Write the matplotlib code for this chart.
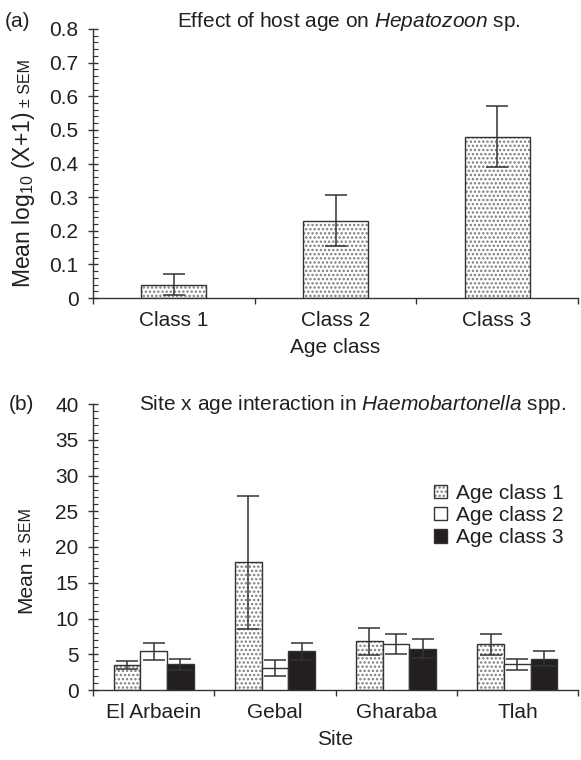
import numpy as np
import matplotlib
matplotlib.use('Agg')
import matplotlib.pyplot as plt
import matplotlib.patches as mpatches
from matplotlib.legend_handler import HandlerTuple
from matplotlib.ticker import MultipleLocator, FuncFormatter, FixedLocator, NullFormatter

plt.rcParams['font.family'] = ['Liberation Sans', 'DejaVu Sans']
plt.rcParams['mathtext.fontset'] = 'custom'
plt.rcParams['mathtext.rm'] = 'Liberation Sans'
plt.rcParams['mathtext.it'] = 'Liberation Sans:italic'
plt.rcParams['hatch.linewidth'] = 1.15

# panel (a): Hepatozoon vs host age
age_classes = ['Class 1', 'Class 2', 'Class 3']
hep_mean = [0.04, 0.23, 0.48]
hep_sem = [0.03, 0.075, 0.09]

# panel (b): Haemobartonella, site x age
sites = ['El Arbaein', 'Gebal', 'Gharaba', 'Tlah']
age_labels = ['Age class 1', 'Age class 2', 'Age class 3']
haemo_mean = {
    'Age class 1': [3.5, 17.9, 6.8, 6.4],
    'Age class 2': [5.4, 3.1, 6.5, 3.6],
    'Age class 3': [3.6, 5.4, 5.8, 4.4],
}
haemo_sem = {
    'Age class 1': [0.6, 9.3, 1.9, 1.5],
    'Age class 2': [1.2, 1.1, 1.4, 0.75],
    'Age class 3': [0.8, 1.15, 1.3, 1.0],
}

TXT = '#231f20'
EDGE = '#333333'
DOT = '#7c7c7c'
W, H = 581, 760
CAP = 8


def fx(px):
    return px / W


def fy(py):
    return 1 - py / H


def err(ax, x, h, e):
    ax.errorbar(x, h, yerr=e, fmt='none', ecolor=EDGE, elinewidth=1.1,
                capsize=CAP, capthick=1.1, zorder=4)


def dotted_bars(ax, x, h, width, yerr=None):
    # hatch layer in grey, then dark outline on top
    ax.bar(x, h, width, color='white', edgecolor=DOT, hatch='....', linewidth=0, zorder=2)
    ax.bar(x, h, width, fill=False, edgecolor=EDGE, linewidth=1.0, zorder=3)
    if yerr is not None:
        err(ax, x, h, yerr)


def style_axes(ax, n_cat):
    for s in ['top', 'right']:
        ax.spines[s].set_visible(False)
    for s in ['left', 'bottom']:
        ax.spines[s].set_color(EDGE)
        ax.spines[s].set_linewidth(1.0)
    ax.set_xlim(-0.5, n_cat - 0.5)
    ax.xaxis.set_major_locator(FixedLocator(np.arange(n_cat)))
    ax.xaxis.set_minor_locator(FixedLocator(np.arange(n_cat + 1) - 0.5))
    ax.xaxis.set_minor_formatter(NullFormatter())
    ax.tick_params(axis='x', which='major', length=0, pad=9, labelsize=15, labelcolor=TXT)
    ax.tick_params(axis='x', which='minor', direction='out', length=4, width=1.0, color=EDGE)
    ax.tick_params(axis='y', which='major', direction='inout', length=7, width=1.0,
                   color=EDGE, pad=7, labelsize=15, labelcolor=TXT)
    ax.tick_params(axis='y', which='minor', direction='in', length=3.5, width=0.8, color=EDGE)


fig = plt.figure(figsize=(5.81, 7.6), dpi=100)

# ---- panel (a)
ax1 = fig.add_axes([fx(93), fy(298), fx(578) - fx(93), fy(29) - fy(298)])
xa = np.arange(len(age_classes))
dotted_bars(ax1, xa, hep_mean, 0.4, hep_sem)
style_axes(ax1, len(age_classes))
ax1.set_ylim(0, 0.8)
ax1.yaxis.set_major_locator(MultipleLocator(0.1))
ax1.yaxis.set_minor_locator(MultipleLocator(0.02))
ax1.yaxis.set_major_formatter(FuncFormatter(lambda v, p: '0' if abs(v) < 1e-9 else f'{v:.1f}'))
ax1.set_xticklabels(age_classes)
ax1.set_xlabel('Age class', fontsize=15, color=TXT, labelpad=6)

# ---- panel (b)
ax2 = fig.add_axes([fx(93), fy(690), fx(578) - fx(93), fy(404) - fy(690)])
xb = np.arange(len(sites))
bw = 0.22
offsets = [-bw, 0, bw]
dotted_bars(ax2, xb + offsets[0], haemo_mean[age_labels[0]], bw, haemo_sem[age_labels[0]])
ax2.bar(xb + offsets[1], haemo_mean[age_labels[1]], bw, color='white', edgecolor=EDGE,
        linewidth=1.0, zorder=3)
err(ax2, xb + offsets[1], haemo_mean[age_labels[1]], haemo_sem[age_labels[1]])
ax2.bar(xb + offsets[2], haemo_mean[age_labels[2]], bw, color=TXT, edgecolor=EDGE,
        linewidth=1.0, zorder=3)
err(ax2, xb + offsets[2], haemo_mean[age_labels[2]], haemo_sem[age_labels[2]])
style_axes(ax2, len(sites))
ax2.set_ylim(0, 40)
ax2.yaxis.set_major_locator(MultipleLocator(5))
ax2.yaxis.set_minor_locator(MultipleLocator(1))
ax2.set_xticklabels(sites)
ax2.set_xlabel('Site', fontsize=15, color=TXT, labelpad=6)

h1 = (mpatches.Patch(facecolor='white', edgecolor=DOT, hatch='....', linewidth=0),
      mpatches.Patch(fill=False, edgecolor=EDGE, linewidth=1.0))
h2 = mpatches.Patch(facecolor='white', edgecolor=EDGE, linewidth=1.0)
h3 = mpatches.Patch(facecolor=TXT, edgecolor=EDGE, linewidth=1.0)
leg = ax2.legend([h1, h2, h3], age_labels, handler_map={tuple: HandlerTuple(ndivide=1)},
                 loc='upper left', bbox_to_anchor=(fx(434), fy(484)),
                 bbox_transform=fig.transFigure, frameon=False, fontsize=15,
                 handlelength=0.6, handleheight=0.6, handletextpad=0.45,
                 labelspacing=0.15, borderpad=0, borderaxespad=0)
for t in leg.get_texts():
    t.set_color(TXT)

# ---- titles and panel letters
fig.text(fx(349), fy(27), r'Effect of host age on $\mathit{Hepatozoon}$ sp.',
         ha='center', va='baseline', fontsize=15, color=TXT)
fig.text(fx(353), fy(410), r'Site x age interaction in $\mathit{Haemobartonella}$ spp.',
         ha='center', va='baseline', fontsize=15, color=TXT)
fig.text(fx(5), fy(27), '(a)', ha='left', va='baseline', fontsize=15, color=TXT)
fig.text(fx(9), fy(410), '(b)', ha='left', va='baseline', fontsize=15, color=TXT)

# ---- y labels with smaller "± SEM" part
renderer = fig.canvas.get_renderer()


def ylabel_parts(x_base, y_start, main, main_size, tail, tail_size):
    t1 = fig.text(fx(x_base), fy(y_start), main, rotation=90, rotation_mode='anchor',
                  ha='left', va='baseline', fontsize=main_size, color=TXT)
    bb = t1.get_window_extent(renderer)
    top_px = H - bb.y1
    fig.text(fx(x_base), fy(top_px - 5), tail, rotation=90, rotation_mode='anchor',
             ha='left', va='baseline', fontsize=tail_size, color=TXT)


ylabel_parts(30, 288, r'Mean log$_{10}$ (X+1)', 16.5, '± SEM', 11.5)
ylabel_parts(31, 613, 'Mean', 15, '± SEM', 11.5)

fig.savefig('out.png', dpi=100)
